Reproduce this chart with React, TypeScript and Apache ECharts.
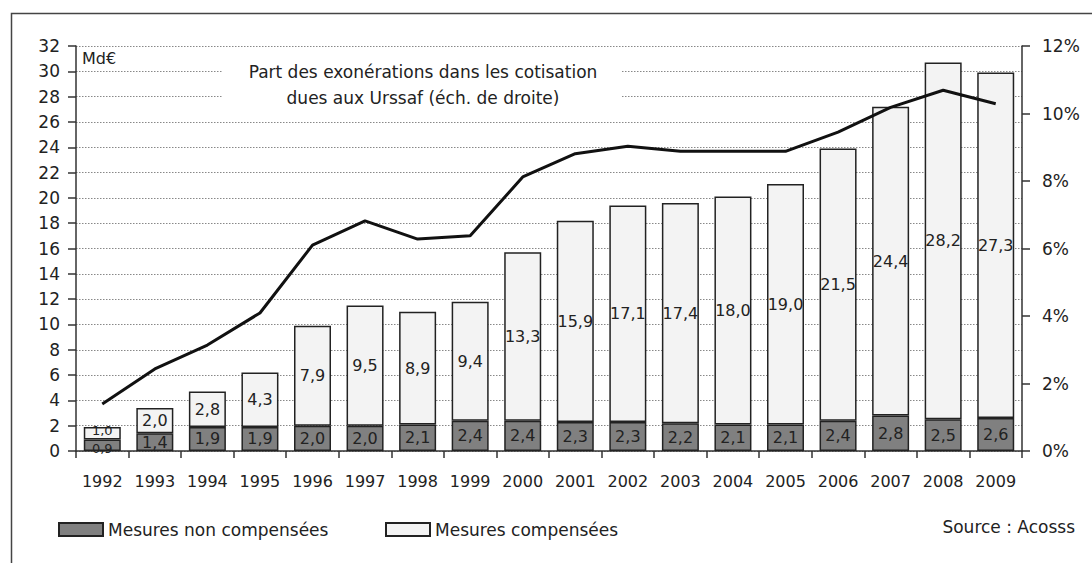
import React, { useEffect, useRef } from "react";
import * as echarts from "echarts";

const years = ["1992","1993","1994","1995","1996","1997","1998","1999","2000","2001","2002","2003","2004","2005","2006","2007","2008","2009"];
const nonCompensees = [0.9,1.4,1.9,1.9,2.0,2.0,2.1,2.4,2.4,2.3,2.3,2.2,2.1,2.1,2.4,2.8,2.5,2.6];
const compensees = [1.0,2.0,2.8,4.3,7.9,9.5,8.9,9.4,13.3,15.9,17.1,17.4,18.0,19.0,21.5,24.4,28.2,27.3];
const partExonerations = [1.39,2.43,3.14,4.09,6.1,6.82,6.28,6.38,8.12,8.81,9.03,8.88,8.88,8.88,9.45,10.18,10.69,10.29];

const FONT = "DejaVu Sans";
const TXT = "#222";

export default function App() {
  const ref = useRef<HTMLDivElement>(null);
  useEffect(() => {
    document.body.style.margin = "0";
    const chart = echarts.init(ref.current!, null, { renderer: "svg" });
    const fmt = (p: any) => Number(p.value).toFixed(1).replace(".", ",");
    // the first (1992) segments are very thin: smaller labels, nudged apart
    const toData = (vals: number[], dy: number) =>
      vals.map((v, i) =>
        i === 0
          ? { value: v, label: { fontSize: 13, offset: [0, dy] } }
          : v
      );
    chart.setOption({
      animation: false,
      textStyle: { fontFamily: FONT, color: TXT },
      grid: { left: 76, right: 70, top: 46, bottom: 112 },
      xAxis: {
        type: "category",
        data: years,
        axisLine: { lineStyle: { color: "#333", width: 1.5 } },
        axisTick: { show: true, length: 7, lineStyle: { color: "#333", width: 1.5 } },
        axisLabel: { fontFamily: FONT, fontSize: 16, color: TXT, margin: 22, interval: 0 },
      },
      yAxis: [
        {
          type: "value",
          min: 0,
          max: 32,
          interval: 2,
          axisLine: { show: true, lineStyle: { color: "#333", width: 1.5 } },
          axisTick: { show: true, length: 8, lineStyle: { color: "#333", width: 1.5 } },
          axisLabel: { fontFamily: FONT, fontSize: 17, color: TXT, margin: 16 },
          splitLine: { show: true, lineStyle: { color: "#888", type: [1.5, 1.5], width: 1 } },
        },
        {
          type: "value",
          min: 0,
          max: 12,
          interval: 2,
          position: "right",
          axisLine: { show: true, lineStyle: { color: "#333", width: 1.5 } },
          axisTick: { show: true, length: 8, lineStyle: { color: "#333", width: 1.5 } },
          axisLabel: { fontFamily: FONT, fontSize: 17, color: TXT, margin: 20, formatter: "{value}%" },
          splitLine: { show: false },
        },
      ],
      legend: [
        {
          left: 53,
          top: 516,
          itemWidth: 44,
          itemHeight: 13,
          icon: "rect",
          data: ["Mesures non compensées"],
          textStyle: { fontFamily: FONT, fontSize: 17, color: TXT },
        },
        {
          left: 380,
          top: 516,
          itemWidth: 44,
          itemHeight: 13,
          icon: "rect",
          data: ["Mesures compensées"],
          textStyle: { fontFamily: FONT, fontSize: 17, color: TXT },
        },
      ],
      series: [
        {
          name: "Mesures non compensées",
          type: "bar",
          stack: "total",
          data: toData(nonCompensees, 3),
          barWidth: 37,
          itemStyle: { color: "#808080", borderColor: "#222", borderWidth: 1.5 },
          label: { show: true, position: "inside", fontFamily: FONT, fontSize: 16, color: TXT, formatter: fmt },
        },
        {
          name: "Mesures compensées",
          type: "bar",
          stack: "total",
          data: toData(compensees, -3),
          barWidth: 37,
          itemStyle: { color: "#f3f3f3", borderColor: "#222", borderWidth: 1.5 },
          label: { show: true, position: "inside", fontFamily: FONT, fontSize: 16, color: TXT, formatter: fmt },
        },
        {
          name: "Part des exonérations",
          type: "line",
          yAxisIndex: 1,
          data: partExonerations,
          showSymbol: false,
          symbol: "none",
          lineStyle: { color: "#111", width: 3 },
          z: 5,
        },
      ],
      graphic: [
        {
          type: "rect",
          left: 9,
          top: 11,
          shape: { width: 1120, height: 600 },
          style: { fill: "none", stroke: "#444", lineWidth: 1.5 },
          silent: true,
          z: -10,
        },
        {
          type: "rect",
          x: 223,
          y: 58,
          shape: { width: 399, height: 52 },
          style: { fill: "#fff" },
          z: 50,
        },
        {
          type: "text",
          x: 423,
          y: 72,
          style: {
            text: "Part des exonérations dans les cotisation",
            fontFamily: FONT,
            fontSize: 17,
            fill: TXT,
            align: "center",
            verticalAlign: "middle",
          },
          z: 51,
        },
        {
          type: "text",
          x: 423,
          y: 98,
          style: {
            text: "dues aux Urssaf (éch. de droite)",
            fontFamily: FONT,
            fontSize: 17,
            fill: TXT,
            align: "center",
            verticalAlign: "middle",
          },
          z: 51,
        },
        {
          type: "text",
          x: 82,
          y: 58,
          style: {
            text: "Md€",
            fontFamily: FONT,
            fontSize: 16,
            fill: TXT,
            align: "left",
            verticalAlign: "middle",
          },
          z: 51,
        },
        {
          type: "text",
          x: 1075,
          y: 527,
          style: {
            text: "Source : Acosss",
            fontFamily: FONT,
            fontSize: 17,
            fill: TXT,
            align: "right",
            verticalAlign: "middle",
          },
          z: 51,
        },
      ],
    });
    return () => chart.dispose();
  }, []);
  return <div ref={ref} style={{ width: 1092, height: 563, background: "#fff" }} />;
}
